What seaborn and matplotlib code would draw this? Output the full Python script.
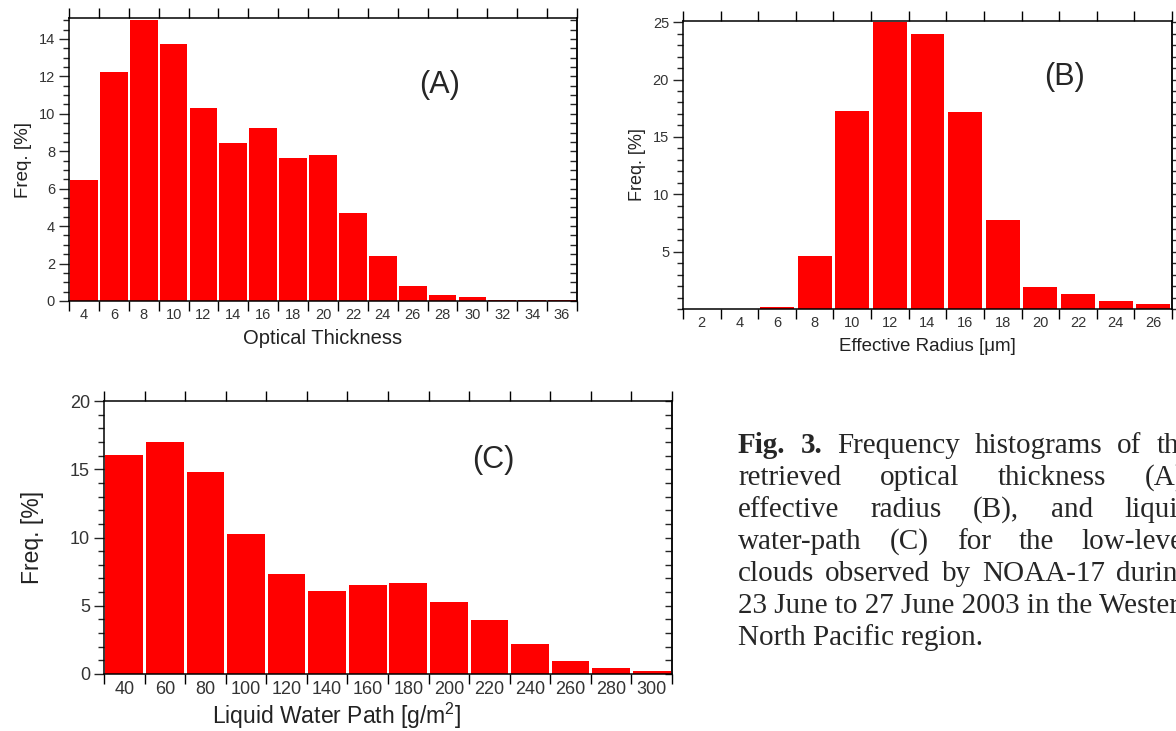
import matplotlib
matplotlib.use("Agg")
import matplotlib.pyplot as plt
import numpy as np
import pandas as pd
import seaborn as sns
from matplotlib.ticker import MultipleLocator, FixedLocator

# (A) optical thickness
tau_bins = [4, 6, 8, 10, 12, 14, 16, 18, 20, 22, 24, 26, 28, 30, 32, 34, 36]
tau_freq = [6.46, 12.22, 15.02, 13.75, 10.29, 8.42, 9.22, 7.62, 7.79, 4.71,
            2.41, 0.80, 0.30, 0.19, 0.07, 0.07, 0.07]

# (B) effective radius
re_bins = [2, 4, 6, 8, 10, 12, 14, 16, 18, 20, 22, 24, 26]
re_freq = [0.0, 0.0, 0.15, 4.59, 17.27, 25.02, 23.98, 17.13, 7.75, 1.92,
           1.28, 0.67, 0.41]

# (C) liquid water path
lwp_bins = [40, 60, 80, 100, 120, 140, 160, 180, 200, 220, 240, 260, 280, 300]
lwp_freq = [16.07, 16.99, 14.83, 10.27, 7.33, 6.07, 6.55, 6.65, 5.24, 3.98,
            2.21, 0.95, 0.44, 0.19]

# caption: justified lines, then two ragged lines
caption_lines = [
    ["Fig.", "3.", "Frequency", "histograms", "of", "the"],
    ["retrieved", "optical", "thickness", "(A),"],
    ["effective", "radius", "(B),", "and", "liquid"],
    ["water-path", "(C)", "for", "the", "low-level"],
    ["clouds", "observed", "by", "NOAA-17", "during"],
]
caption_tail = ["23 June to 27 June 2003 in the Western", "North Pacific region."]

sns.set_theme(style="ticks")
plt.rcParams['font.family'] = ['Liberation Sans', 'DejaVu Sans']
plt.rcParams['mathtext.fontset'] = 'custom'
plt.rcParams['mathtext.rm'] = 'Liberation Sans'

W, H = 1176, 731
fig = plt.figure(figsize=(W / 100, H / 100), dpi=100)


def px_axes(left, top, right, bottom):
    return fig.add_axes([left / W, 1 - bottom / H, (right - left) / W, (bottom - top) / H])


def style_panel(ax, bins, step, ymax, ymajor, yminor, yticks, tick_fs,
                right_dir, xlabel, xlabel_fs, ylabel_fs):
    edges = [b - step / 2 for b in bins] + [bins[-1] + step / 2]
    ax.set_xlim(edges[0], edges[-1])
    ax.set_ylim(0, ymax)
    ax.xaxis.set_major_locator(FixedLocator(bins))
    ax.set_xticklabels([str(b) for b in bins])
    ax.xaxis.set_minor_locator(FixedLocator(edges))
    ax.tick_params(axis='x', which='major', length=0, pad=5, labelsize=tick_fs,
                   labelcolor='#333333')
    ax.tick_params(axis='x', which='minor', length=7, width=1, direction='out',
                   top=True, bottom=True, color='black')
    ax.set_yticks(yticks)
    ax.yaxis.set_minor_locator(MultipleLocator(yminor))
    ax.tick_params(axis='y', which='major', length=7, width=1, direction='out',
                   left=True, right=False, labelsize=tick_fs, labelcolor='#333333', pad=3)
    ax.tick_params(axis='y', which='minor', length=4, width=1, direction='out',
                   left=True, right=False)
    sec = ax.secondary_yaxis('right')
    sec.yaxis.set_major_locator(MultipleLocator(ymajor))
    sec.yaxis.set_minor_locator(MultipleLocator(yminor))
    sec.tick_params(axis='y', which='major', length=5, width=1, direction=right_dir,
                    labelright=False)
    sec.tick_params(axis='y', which='minor', length=5, width=1, direction=right_dir)
    for s in ax.spines.values():
        s.set_visible(True)
        s.set_linewidth(1.1)
        s.set_color('black')
    sec.spines['right'].set_linewidth(1.1)
    ax.set_xlabel(xlabel, fontsize=xlabel_fs, color='#222222')
    ax.set_ylabel('Freq. [%]', fontsize=ylabel_fs, color='#222222')


# Panel A
axA = px_axes(69, 18, 577, 301)
sns.barplot(x=tau_bins, y=tau_freq, native_scale=True, width=0.93, color='#ff0000',
            saturation=1, linewidth=0, ax=axA)
style_panel(axA, tau_bins, 2, 15.12, 2, 0.5, list(range(0, 15, 2)), 10.5, 'in',
            'Optical Thickness', 14.5, 13.5)
axA.yaxis.set_label_coords(-0.072, 0.5)
axA.xaxis.set_label_coords(0.5, -0.1)
axA.text(0.73, 0.763, '(A)', transform=axA.transAxes, fontsize=22, ha='center', va='center')

# Panel B
axB = px_axes(683, 21, 1172, 309)
sns.barplot(x=re_bins, y=re_freq, native_scale=True, width=0.9, color='#ff0000',
            saturation=1, linewidth=0, ax=axB)
style_panel(axB, re_bins, 2, 25.1, 5, 1, [5, 10, 15, 20, 25], 10.5, 'out',
            'Effective Radius [μm]', 13.5, 13)
axB.yaxis.set_label_coords(-0.075, 0.5)
axB.xaxis.set_label_coords(0.5, -0.1)
axB.text(0.78, 0.806, '(B)', transform=axB.transAxes, fontsize=22, ha='center', va='center')

# Panel C
axC = px_axes(104, 401, 672, 674)
sns.barplot(x=lwp_bins, y=lwp_freq, native_scale=True, width=0.93, color='#ff0000',
            saturation=1, linewidth=0, ax=axC)
style_panel(axC, lwp_bins, 20, 20, 5, 1, [0, 5, 10, 15, 20], 13, 'in',
            'Liquid Water Path [g/m$^{2}$]', 16.5, 16.5)
axC.yaxis.set_label_coords(-0.105, 0.5)
axC.xaxis.set_label_coords(0.41, -0.098)
axC.text(0.685, 0.784, '(C)', transform=axC.transAxes, fontsize=22, ha='center', va='center')

# caption, justified between a left margin and a right margin past the page edge
cap_left, cap_right = 738, 1192
baselines = [453, 485, 517, 549, 581, 613, 645]
cap_font = ['Liberation Serif', 'DejaVu Serif']
cap_size = 21
renderer = fig.canvas.get_renderer()
for i, words in enumerate(caption_lines):
    texts = []
    for j, w in enumerate(words):
        bold = (i == 0 and j < 2)
        t = fig.text(0, 1 - baselines[i] / H, w, fontsize=cap_size, family=cap_font,
                     fontweight='bold' if bold else 'normal', va='baseline', ha='left')
        texts.append(t)
    widths = [t.get_window_extent(renderer).width for t in texts]
    gap = (cap_right - cap_left - sum(widths)) / (len(words) - 1)
    x = cap_left
    for t, wd in zip(texts, widths):
        t.set_x(x / W)
        x += wd + gap
for k, line in enumerate(caption_tail):
    fig.text(cap_left / W, 1 - baselines[5 + k] / H, line, fontsize=cap_size, family=cap_font,
             va='baseline', ha='left')

fig.savefig('out.png', dpi=100)
